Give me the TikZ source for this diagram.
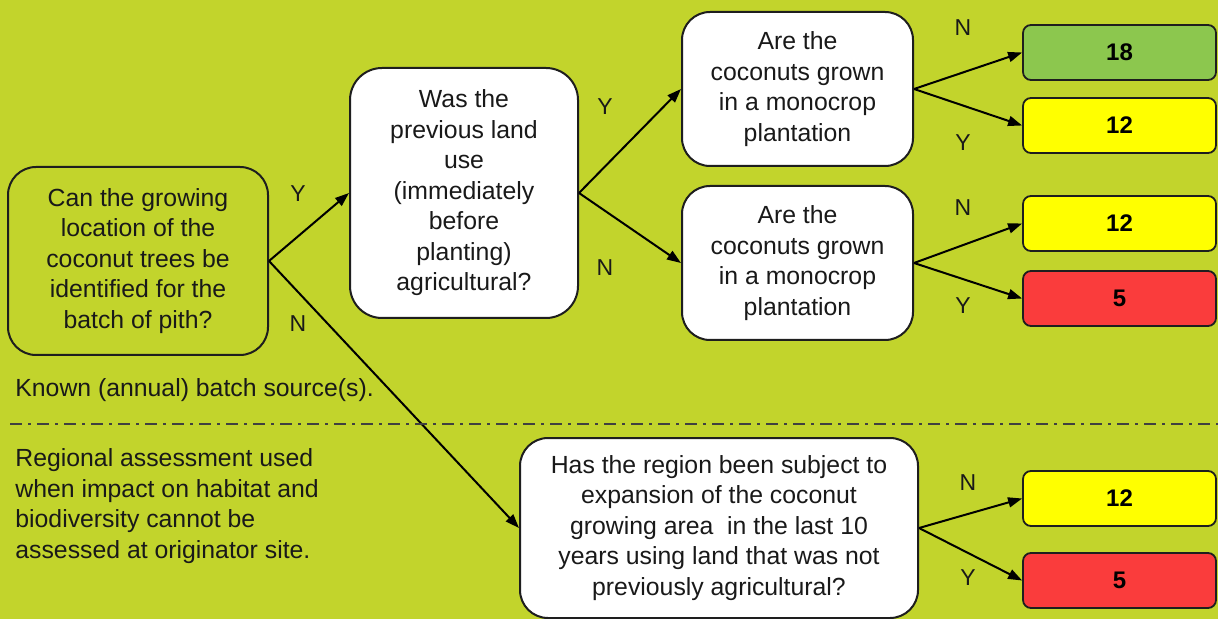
\documentclass[tikz,border=0pt]{standalone}
\usepackage{fontspec}
\setmainfont{Liberation Sans}
\usetikzlibrary{arrows.meta}
\definecolor{bg}{RGB}{194,212,44}
\definecolor{leafgreen}{RGB}{140,199,78}
\definecolor{leafyellow}{RGB}{255,255,0}
\definecolor{leafred}{RGB}{250,60,60}
\definecolor{edge}{RGB}{30,30,30}
\begin{document}
\begin{tikzpicture}[x=0.5pt,y=-0.5pt,
  txt/.style={font={\fontsize{12.4}{15.25}\selectfont},text=black!90},
  qbox/.style={txt,draw=edge,line width=1pt,rounded corners=14pt,align=center,inner sep=0pt},
  leaf/.style={draw=edge,line width=0.9pt,rounded corners=4pt,minimum width=96.5pt,minimum height=27.5pt,
    font={\fontsize{12}{14}\selectfont\bfseries},inner sep=0pt},
  yn/.style={font={\fontsize{11.5}{13}\selectfont},text=black!90},
  conn/.style={line width=1pt,-{Triangle[length=7pt,width=5pt]}},
  sep/.style={line width=1pt,draw=black!75,dash pattern=on 6pt off 3pt on 1.5pt off 3pt}]
\fill[bg] (0,0) rectangle (1218,619);
\useasboundingbox (0,0) rectangle (1218,619);

\node[qbox,fill=bg,minimum width=130pt,minimum height=94pt] (A) at (138,261)
  {Can the growing\\location of the\\coconut trees be\\identified for the\\batch of pith?};
\node[qbox,fill=white,minimum width=114pt,minimum height=125pt,rounded corners=16pt] (B) at (464,193)
  {Was the\\previous land\\use\\(immediately\\before\\planting)\\agricultural?};
\node[qbox,fill=white,minimum width=115.5pt,minimum height=77pt] (C1) at (797.5,89)
  {Are the\\coconuts grown\\in a monocrop\\plantation};
\node[qbox,fill=white,minimum width=115.5pt,minimum height=77pt] (C2) at (797.5,263)
  {Are the\\coconuts grown\\in a monocrop\\plantation};
\node[qbox,fill=white,minimum width=199pt,minimum height=90pt] (D) at (719,528)
  {Has the region been subject to\\expansion of the coconut\\growing area\ \ in the last 10\\years using land that was not\\previously agricultural?};

\node[leaf,fill=leafgreen] (L1) at (1119.5,52.5) {18};
\node[leaf,fill=leafyellow] (L2) at (1119.5,125.5) {12};
\node[leaf,fill=leafyellow] (L3) at (1119.5,223.5) {12};
\node[leaf,fill=leafred] (L4) at (1119.5,298.5) {5};
\node[leaf,fill=leafyellow] (L5) at (1119.5,498.5) {12};
\node[leaf,fill=leafred] (L6) at (1119.5,580.5) {5};

\draw[conn] (A.east) -- (B.west);
\draw[conn] (A.east) -- (D.west);
\draw[conn] (B.east) -- (C1.west);
\draw[conn] (B.east) -- (C2.west);
\draw[conn] (C1.east) -- (L1.west);
\draw[conn] (C1.east) -- (L2.west);
\draw[conn] (C2.east) -- (L3.west);
\draw[conn] (C2.east) -- (L4.west);
\draw[conn] (D.east) -- (L5.west);
\draw[conn] (D.east) -- (L6.west);

\node[yn] (y1) at (298,194) {Y};
\node[yn] (n1) at (298,324) {N};
\node[yn] (y2) at (605,107) {Y};
\node[yn] (n2) at (605,268) {N};
\node[yn] (n3) at (963,28) {N};
\node[yn] (y3) at (963,143) {Y};
\node[yn] (n4) at (963,208) {N};
\node[yn] (y4) at (963,306) {Y};
\node[yn] (n5) at (968,483) {N};
\node[yn] (y5) at (968,578) {Y};

\coordinate (s1) at (10,424);
\coordinate (s2) at (1218,424);
\draw[sep] (s1) -- (s2);

\node[txt,anchor=west,inner sep=0pt] (known) at (15,390) {Known (annual) batch source(s).};
\node[txt,anchor=west,align=left,inner sep=0pt] (regional) at (15,506)
  {Regional assessment used\\when impact on habitat and\\biodiversity cannot be\\assessed at originator site.};
\end{tikzpicture}
\end{document}
